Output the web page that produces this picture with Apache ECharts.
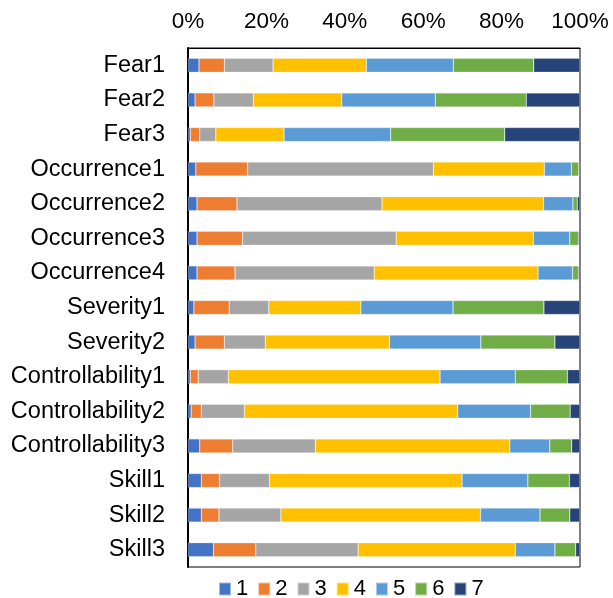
<!DOCTYPE html>
<html><head><meta charset="utf-8">
<script src="https://cdn.jsdelivr.net/npm/echarts@6/dist/echarts.min.js"></script>
<style>html,body{margin:0;padding:0;background:#fff}#c{width:613px;height:598px}</style>
</head><body><div id="c"></div>
<script>
const categories = ["Fear1","Fear2","Fear3","Occurrence1","Occurrence2","Occurrence3","Occurrence4","Severity1","Severity2","Controllability1","Controllability2","Controllability3","Skill1","Skill2","Skill3"];
const seriesNames = ["1","2","3","4","5","6","7"];
const s1 = [2.8,1.8,0.6,2.0,2.3,2.3,2.3,1.5,1.8,0.6,0.8,3.0,3.4,3.4,6.5];
const s2 = [6.5,4.8,2.4,13.2,10.2,11.6,9.7,9.0,7.5,2.0,2.6,8.4,4.6,4.5,10.8];
const s3 = [12.4,10.1,4.1,47.4,37.0,39.2,35.5,10.1,10.4,7.7,11.0,21.1,12.8,15.8,26.1];
const s4 = [23.8,22.5,17.4,28.3,41.2,35.0,41.8,23.5,31.7,54.0,54.4,49.6,49.1,50.9,40.1];
const s5 = [22.2,23.9,27.2,6.9,7.5,9.3,8.8,23.5,23.3,19.2,18.6,10.2,16.8,15.2,10.1];
const s6 = [20.5,23.2,29.1,1.9,1.1,2.2,1.5,23.2,18.9,13.3,10.1,5.6,10.6,7.6,5.3];
const s7 = [11.8,13.7,19.2,0.3,0.7,0.4,0.4,9.2,6.4,3.2,2.5,2.1,2.7,2.6,1.1];
const xTicks = [0,20,40,60,80,100];
const colors = ["#4472C4","#ED7D31","#A5A5A5","#FFC000","#5B9BD5","#70AD47","#264478"];
const allData = [s1,s2,s3,s4,s5,s6,s7];

const chart = echarts.init(document.getElementById('c'), null, {renderer:'canvas'});
chart.setOption({
  animation:false,
  color: colors,
  textStyle:{fontFamily:'Liberation Sans, Arial, sans-serif'},
  grid:{left:188,right:33,top:48,bottom:31,show:true,borderColor:'#000',borderWidth:1},
  legend:{
    data: seriesNames, left:213, top:573, itemWidth:12, itemHeight:13, itemGap:9,
    textStyle:{fontSize:22,color:'#000',fontFamily:'Liberation Sans, Arial, sans-serif'},
    icon:'rect'
  },
  xAxis:{
    type:'value', position:'top', min:0, max:100, interval:20,
    axisLabel:{formatter: v => xTicks.includes(v) ? v + '%' : '', fontSize:22.5, color:'#000', margin:15},
    axisLine:{show:true,lineStyle:{color:'#000',width:1}},
    axisTick:{show:false}, splitLine:{show:false}
  },
  yAxis:{
    type:'category', data:categories, inverse:true,
    axisLabel:{fontSize:23.5, color:'#000', margin:23},
    axisLine:{show:true,lineStyle:{color:'#000',width:2}},
    axisTick:{show:false}
  },
  series: seriesNames.map((n,i)=>({
    name:n, type:'bar', stack:'total', data:allData[i], barWidth:14,
    itemStyle:{color:colors[i], borderColor:'rgba(255,255,255,0.5)', borderWidth:0.5}
  }))
});
</script></body></html>
